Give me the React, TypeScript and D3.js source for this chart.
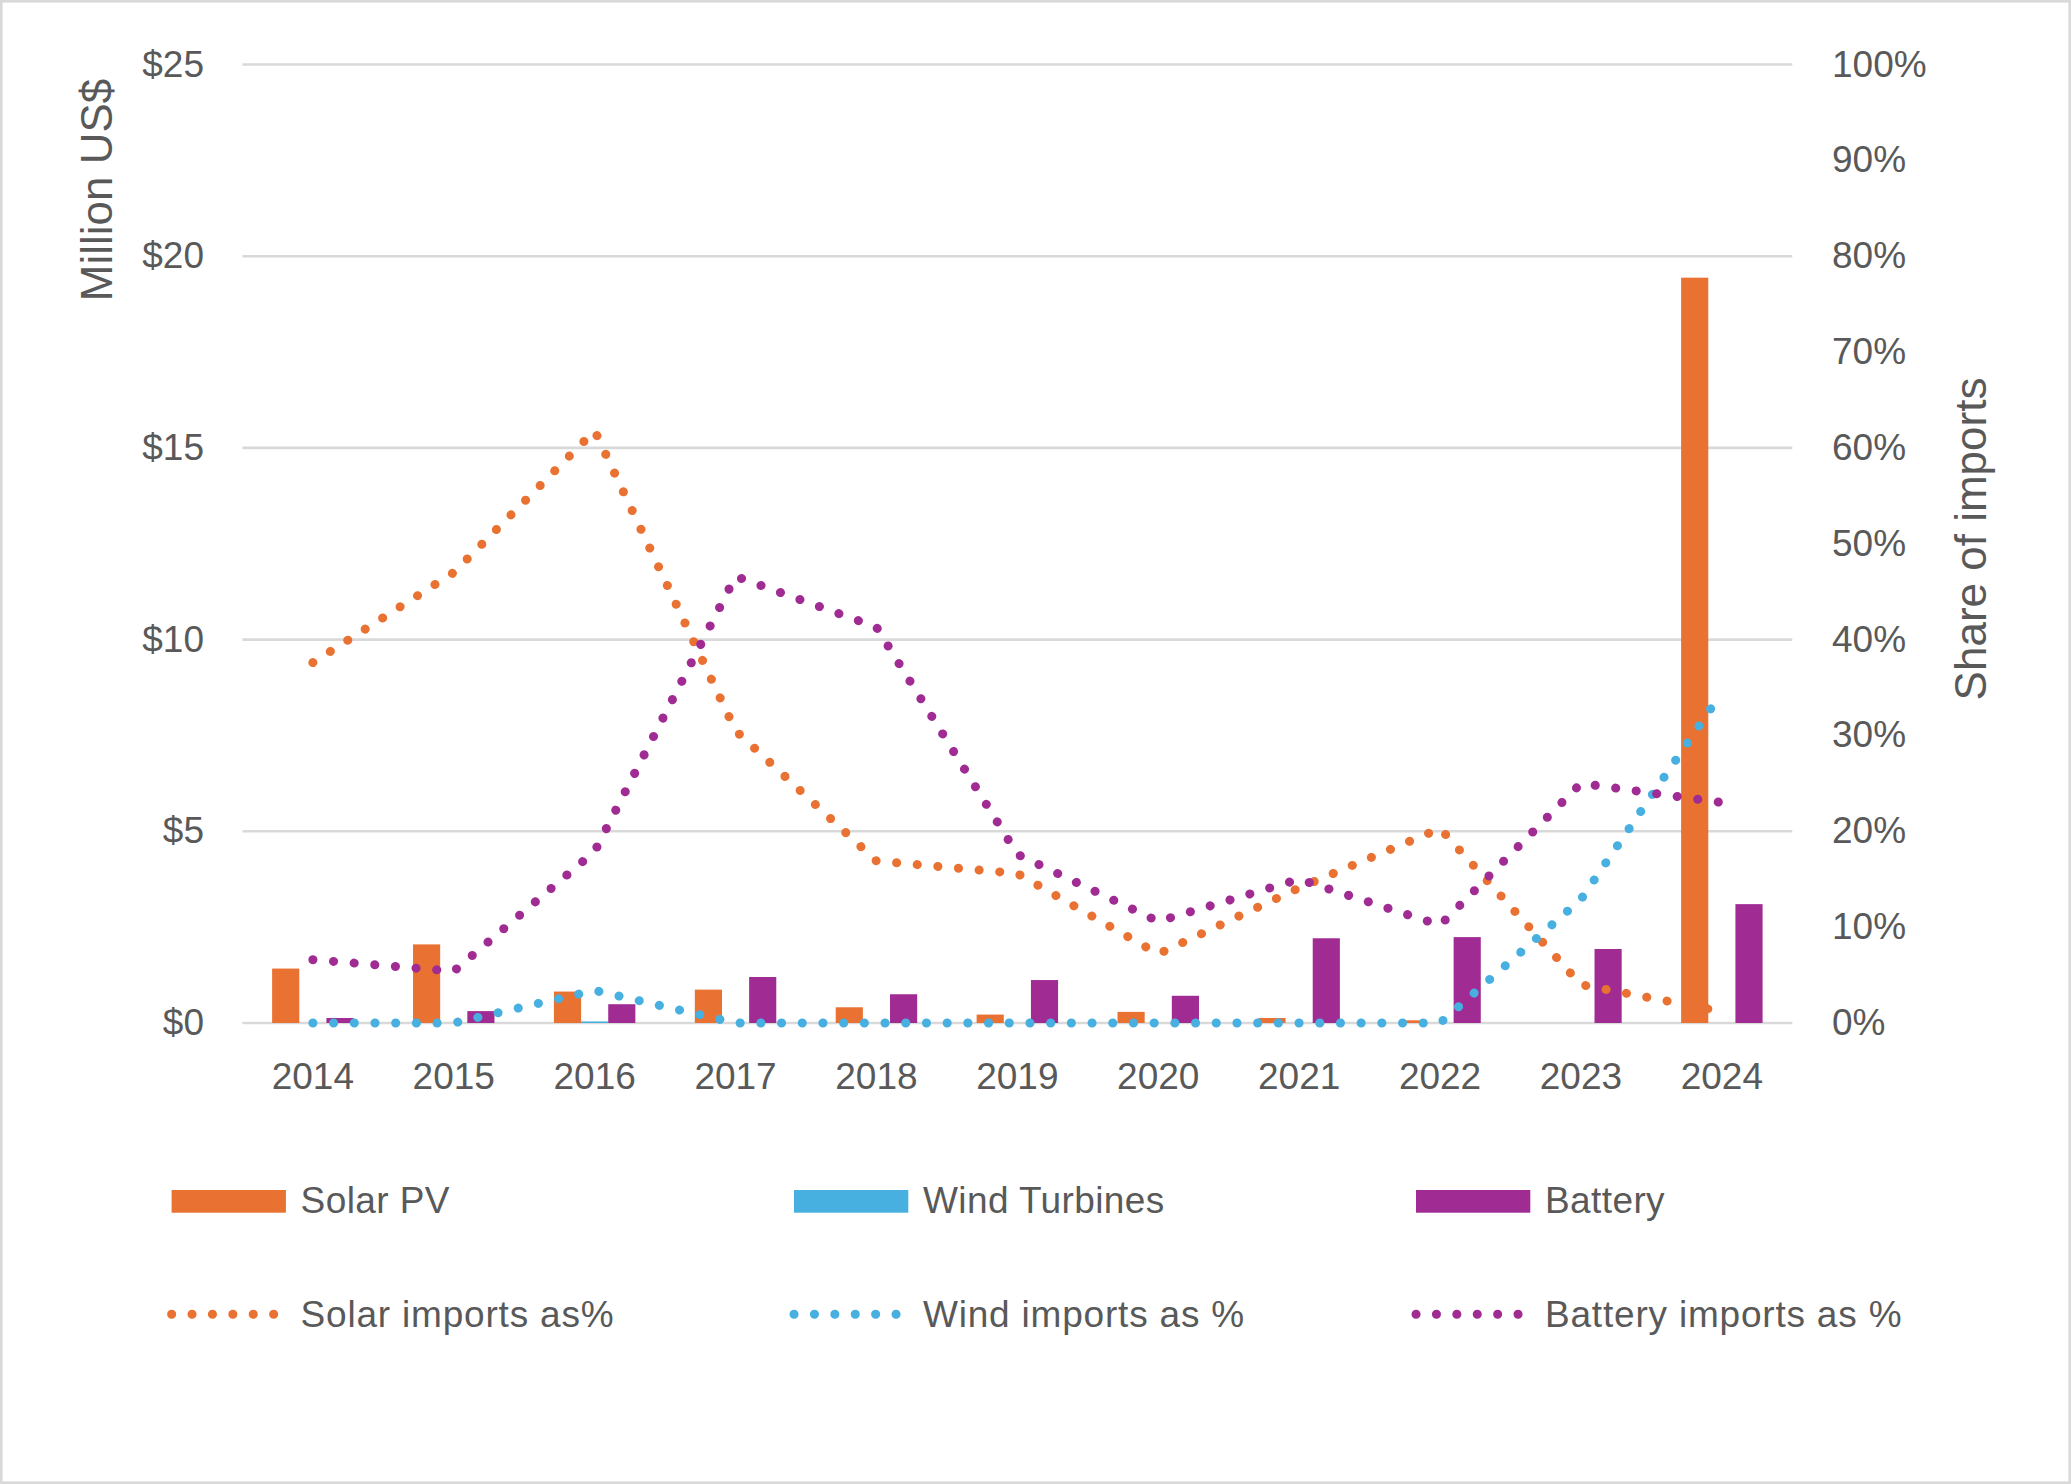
import * as d3 from "d3";

const years = ["2014", "2015", "2016", "2017", "2018", "2019", "2020", "2021", "2022", "2023", "2024"];

// Million US$
const solarPv = [1.42, 2.05, 0.82, 0.87, 0.41, 0.22, 0.29, 0.13, 0.07, 0, 19.44];
const windTurbines = [0, 0, 0.04, 0, 0, 0, 0, 0, 0, 0, 0];
const battery = [0.13, 0.31, 0.49, 1.2, 0.75, 1.12, 0.71, 2.21, 2.24, 1.93, 3.1];

// share of imports (0..1)
const solarShare = [0.376, 0.47, 0.618, 0.305, 0.169, 0.156, 0.072, 0.141, 0.203, 0.04, 0.012];
const windShare = [0, 0, 0.034, 0, 0, 0, 0, 0, 0, 0.129, 0.345];
const batteryShare = [0.066, 0.054, 0.179, 0.466, 0.413, 0.176, 0.106, 0.15, 0.102, 0.25, 0.23];

const leftTicks = [0, 5, 10, 15, 20, 25];
const rightTicks = [0, 0.1, 0.2, 0.3, 0.4, 0.5, 0.6, 0.7, 0.8, 0.9, 1];

const barSeries = ["Solar PV", "Wind Turbines", "Battery"];
const lineSeries = ["Solar imports as%", "Wind imports as %", "Battery imports as %"];
const colors = ["#E97132", "#47B0E0", "#A02B93"];

const W = 2071;
const H = 1484;
const FONT = "'Liberation Sans', Arial, sans-serif";
const TEXT = "#595959";
const GRID = "#D9D9D9";

export default function App() {
  const x = d3.scaleBand<string>()
    .domain(years)
    .range([242.4, 1792.3])
    .paddingInner(2.19 / 5.19)
    .paddingOuter(1.095 / 5.19);
  const xs = d3.scaleBand<string>().domain(barSeries).range([0, x.bandwidth()]);
  const yL = d3.scaleLinear().domain([0, 25]).range([1023, 64.5]);
  const yR = d3.scaleLinear().domain([0, 1]).range([1023, 64.5]);
  const cx = (i: number) => (x(years[i]) ?? 0) + x.bandwidth() / 2;

  // straight segments between points, like the source chart
  const line = d3.line<number>()
    .x((_, i) => cx(i))
    .y((d) => yR(d));

  const bars = [solarPv, windTurbines, battery];
  const shares = [solarShare, windShare, batteryShare];
  const legendX = [171.6, 794, 1416];

  return (
    <>
      <style>{`body{margin:0}`}</style>
      <svg width={W} height={H} style={{ display: "block", fontFamily: FONT }}>
        <rect x={1.3} y={1.3} width={W - 2.6} height={H - 2.6} fill="#fff" stroke={GRID} strokeWidth={2.6} />

        {/* gridlines */}
        {leftTicks.map((t) => (
          <line key={t} x1={242.4} x2={1792.3} y1={yL(t)} y2={yL(t)} stroke={GRID} strokeWidth={2.6} />
        ))}

        {/* left axis */}
        {leftTicks.map((t) => (
          <text key={t} x={204} y={yL(t) + 12} textAnchor="end" fontSize={37} fill={TEXT}>
            {"$" + t}
          </text>
        ))}
        {/* right axis */}
        {rightTicks.map((t) => (
          <text key={t} x={1832} y={yR(t) + 12} textAnchor="start" fontSize={37} fill={TEXT}>
            {d3.format(".0%")(t)}
          </text>
        ))}
        {/* categories */}
        {years.map((yr, i) => (
          <text key={yr} x={cx(i)} y={1089} textAnchor="middle" fontSize={37} fill={TEXT}>
            {yr}
          </text>
        ))}

        <text transform="translate(112,190) rotate(-90)" textAnchor="middle" fontSize={44} fill={TEXT}>
          Million US$
        </text>
        <text transform="translate(1986,539) rotate(-90)" textAnchor="middle" fontSize={44} fill={TEXT}>
          Share of imports
        </text>

        {/* bars */}
        {bars.map((vals, s) =>
          vals.map((v, i) =>
            v > 0 ? (
              <rect
                key={`${s}-${i}`}
                x={(x(years[i]) ?? 0) + (xs(barSeries[s]) ?? 0)}
                y={yL(v)}
                width={xs.bandwidth()}
                height={yL(0) - yL(v)}
                fill={colors[s]}
              />
            ) : null
          )
        )}

        {/* share lines */}
        {shares.map((vals, s) => (
          <path
            key={s}
            d={line(vals) ?? ""}
            fill="none"
            stroke={colors[s]}
            strokeWidth={9}
            strokeLinecap="round"
            strokeLinejoin="round"
            strokeDasharray="0.1 20.6"
          />
        ))}

        {/* legend */}
        {barSeries.map((name, s) => (
          <g key={name}>
            <rect x={legendX[s]} y={1190} width={114.3} height={22.7} fill={colors[s]} />
            <text x={legendX[s] + 129} y={1212.7} fontSize={37} fill={TEXT} letterSpacing={0.4}>
              {name}
            </text>
          </g>
        ))}
        {lineSeries.map((name, s) => (
          <g key={name}>
            <line
              x1={legendX[s]}
              x2={legendX[s] + 102.1}
              y1={1314.3}
              y2={1314.3}
              stroke={colors[s]}
              strokeWidth={9}
              strokeLinecap="round"
              strokeDasharray="0.1 20.3"
            />
            <text x={legendX[s] + 129} y={1326.7} fontSize={37} fill={TEXT} letterSpacing={0.8}>
              {name}
            </text>
          </g>
        ))}
      </svg>
    </>
  );
}
